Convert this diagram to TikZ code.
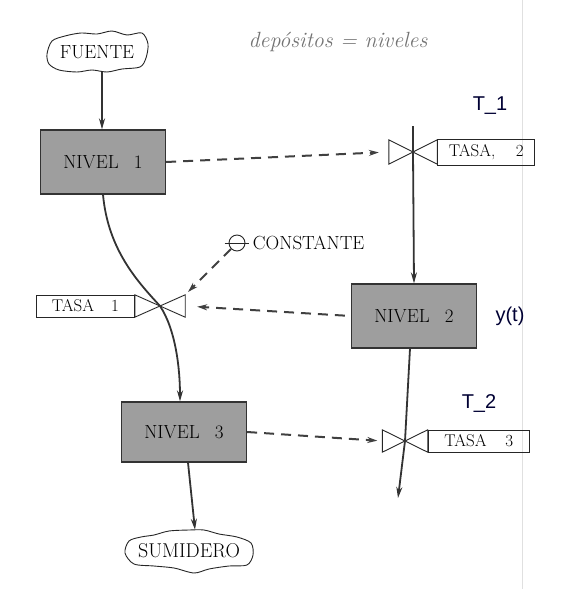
\documentclass[tikz,border=0pt]{standalone}
\usepackage{fontspec}
\newfontfamily\annotfont{Liberation Sans}
\usetikzlibrary{arrows.meta}
\begin{document}
\begin{tikzpicture}[x=1pt,y=-1pt,
  level/.style={shape=rectangle,draw=black!80,line width=1.2pt,fill=black!38,minimum width=125,minimum height=64,font=\fontsize{19}{22}\selectfont},
  rate/.style={shape=rectangle,draw=black!85,line width=1pt,inner sep=0,font=\fontsize{17}{20}\selectfont},
  valve/.style={shape=rectangle,inner sep=0,minimum height=22},
  sky/.style={shape=rectangle,inner sep=0,font=\fontsize{19}{22}\selectfont},
  skyline/.style={draw=black!85,line width=0.9pt},
  flow/.style={draw=black!80,line width=1.8pt,-{Stealth[length=11pt,width=6pt]}},
  info/.style={draw=black!75,line width=2pt,dash pattern=on 10pt off 7pt,-{Stealth[length=10pt,width=6pt]}},
  note/.style={font=\annotfont\fontsize{20}{22}\selectfont,text=black!80!blue}]
\useasboundingbox (0,0) rectangle (570,589);
\draw[black!12,line width=0.8pt] (522,0) -- (522,589);

\node[text=black!55,font=\itshape\fontsize{22}{24}\selectfont] (hand) at (338,42) {depósitos = niveles};

\node[sky,minimum width=100,minimum height=40] (F) at (97,52) {FUENTE};
\draw[skyline,shift={(F.center)}] plot[smooth cycle] coordinates {(-50,2) (-45,-11) (-32,-16) (-16,-19) (0,-18) (15,-21) (30,-17) (45,-19) (51,-8) (49,6) (43,15) (25,17) (10,20) (-5,18) (-20,20) (-38,18) (-48,12)};
\node[sky,minimum width=128,minimum height=42,font=\fontsize{20}{23}\selectfont] (S) at (189,551) {SUMIDERO};
\draw[skyline,shift={(S.center)}] plot[smooth cycle] coordinates {(-64,2) (-60,-10) (-48,-14) (-35,-16) (-20,-20) (0,-21) (15,-21) (30,-17) (48,-14) (62,-8) (64,4) (58,14) (40,15) (20,18) (5,22) (-15,17) (-35,15) (-55,13)};

\node[level] (N1) at (103,162) {NIVEL\hspace{0.8em}1};
\node[level] (N2) at (414,316) {NIVEL\hspace{0.8em}2};
\node[level,minimum height=60] (N3) at (184,432) {NIVEL\hspace{0.8em}3};

\node[valve,minimum width=50] (V1) at (160,306) {};
\node[valve,minimum width=48,minimum height=24] (V2) at (413,152) {};
\node[valve,minimum width=45] (V3) at (405,441) {};
\foreach \v in {V1,V2,V3}
  \draw[black!85,line width=0.9pt] (\v.north west) -- (\v.south east) -- (\v.north east) -- (\v.south west) -- cycle;

\node[rate,anchor=east,minimum width=98,minimum height=22] (R1) at (V1.west) {TASA\hspace{1em}1};
\node[rate,anchor=west,minimum width=97,minimum height=26] (R2) at (V2.east) {TASA,\hspace{1.2em}2};
\node[rate,anchor=west,minimum width=101,minimum height=22] (R3) at (V3.east) {TASA\hspace{1.1em}3};

\node[shape=circle,draw=black!85,line width=0.9pt,minimum size=16,inner sep=0] (C) at (237,243) {};
\draw[black!85,line width=0.9pt] ([xshift=-4]C.west) -- ([xshift=4]C.east);
\node[anchor=west,font=\fontsize{19}{22}\selectfont] (Ct) at ([xshift=4]C.east) {CONSTANTE};

\node[note] (T1) at (490,106) {T\_1};
\node[note] (yt) at (510,316) {y(t)};
\node[note] (T2) at (479,404) {T\_2};

\coordinate (top2) at (413,126);
\coordinate (out3) at (398,498);

\draw[flow] ([xshift=5]F.south) -- ([xshift=-1]N1.north);
\draw[flow] (N1.south) .. controls (108,250) and (138,282) .. (V1.center) .. controls (176,330) and (180,370) .. ([xshift=-4]N3.north);
\draw[flow] ([xshift=4]N3.south) -- ([xshift=6]S.north);
\draw[flow] (top2) -- (V2.center) -- (N2.north);
\draw[flow] ([xshift=-4]N2.south) -- (V3.center) -- (out3);

\draw[info,shorten >=10pt] (N1.east) -- (V2.west);
\draw[info,shorten >=4pt] (C.south west) -- (V1.north east);
\draw[info,shorten <=6pt,shorten >=12pt] (N2.west) -- (V1.east);
\draw[info,shorten >=5pt] (N3.east) -- (V3.west);
\end{tikzpicture}
\end{document}
